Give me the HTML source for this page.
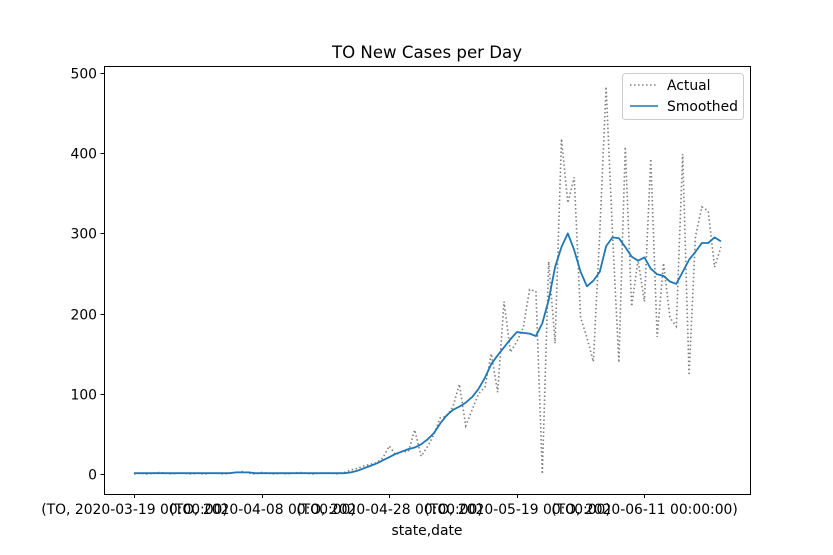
<!DOCTYPE html>
<html><head><meta charset="utf-8"><style>
html,body{margin:0;padding:0;background:#fff;}
svg{display:block;font-family:"DejaVu Sans","Liberation Sans",sans-serif;}
</style></head><body>
<svg id="chart" width="833" height="555" viewBox="0 0 833 555" xmlns="http://www.w3.org/2000/svg">
<rect width="833" height="555" fill="#fff"/>
<text x="427" y="58" text-anchor="middle" font-size="16.6" fill="#000">TO New Cases per Day</text>
<g id="plot"></g>
<text x="427" y="535" text-anchor="middle" font-size="13.9" fill="#000">state,date</text>
<g>
<rect x="622.5" y="73.5" width="121" height="46" rx="3" fill="#fff" fill-opacity="0.8" stroke="#ccc"/>
<line x1="630" y1="85" x2="658" y2="85" stroke="#7f7f7f" stroke-width="1.6" stroke-dasharray="1.5,2.5"/>
<text x="667" y="90" font-size="13.9">Actual</text>
<line x1="630" y1="106" x2="658" y2="106" stroke="#1f77b4" stroke-width="1.6"/>
<text x="667" y="111" font-size="13.9">Smoothed</text>
</g>
</svg>
<script>
const actual = [0,1,0,1,2,1,0,1,1,0,1,0,1,1,0,1,2,3,1,0,2,1,0,1,0,1,2,1,0,1,1,1,0,2,5,7,10,12,14,20,35,24,28,28,55,22,34,49,70,72,84,112,60,80,100,108,150,102,215,152,165,182,230,228,0,265,163,418,338,370,195,170,140,300,483,300,139,408,209,267,215,393,171,263,195,184,399,123,296,333,328,258,283];
const smoothed = [1,1,1,1,1,1,1,1,1,1,1,1,1,1,1,1,2,2,2,1,1,1,1,1,1,1,1,1,1,1,1,1,1,1,2,4,7,10,13,17,21,25,28,31,33,37,43,51,63,73,80,84,89,96,106,120,137,148,158,168,177,176,175,172,188,217,258,283,300,279,252,234,241,252,284,295,294,283,271,266,270,256,249,247,240,237,252,267,277,288,288,295,290];
const xTickIdx = [0,20,40,60,80];
const xTickLabels = ["(TO, 2020-03-19 00:00:00)","(TO, 2020-04-08 00:00:00)","(TO, 2020-04-28 00:00:00)","(TO, 2020-05-19 00:00:00)","(TO, 2020-06-11 00:00:00)"];
const yTicks = [0,100,200,300,400,500];

const NS="http://www.w3.org/2000/svg";
const L=104,R=750,T=66,B=494;
const xs=i=>134+6.38*i;
const ys=v=>474-0.802*v;
const g=document.getElementById('plot');
function mk(tag,attrs){const e=document.createElementNS(NS,tag);for(const k in attrs)e.setAttribute(k,attrs[k]);return e;}

const pa=mk('polyline',{points:actual.map((v,i)=>xs(i)+','+ys(v)).join(' '),fill:'none',stroke:'#7f7f7f','stroke-width':1.6,'stroke-dasharray':'1.5,2.5'});


g.appendChild(pa);
const ps=mk('polyline',{points:smoothed.map((v,i)=>xs(i)+','+ys(v)).join(' '),fill:'none',stroke:'#1f77b4','stroke-width':1.8,'stroke-linejoin':'round'});


g.appendChild(ps);

const fr=mk('rect',{x:L+0.5,y:T+0.5,width:R-L,height:B-T,fill:'none',stroke:'#000','stroke-width':1});


g.appendChild(fr);

yTicks.forEach(v=>{
  const y=Math.round(ys(v))+0.5;
  const t=mk('line',{x1:L-3.5,x2:L+0.5,y1:y,y2:y,stroke:'#000'});
  
  
  g.appendChild(t);
  const tx=mk('text',{x:L-7,y:y+5,'text-anchor':'end','font-size':13.9});
  
  
  tx.textContent=v;g.appendChild(tx);
});
xTickIdx.forEach((idx,k)=>{
  const x=Math.round(xs(idx))+0.5;
  const t=mk('line',{x1:x,x2:x,y1:B+0.5,y2:B+4,stroke:'#000'});
  
  
  g.appendChild(t);
  const tx=mk('text',{x:x,y:B+20,'text-anchor':'middle','font-size':13.9});
  
  
  tx.textContent=xTickLabels[k];g.appendChild(tx);
});
</script>
</body></html>
